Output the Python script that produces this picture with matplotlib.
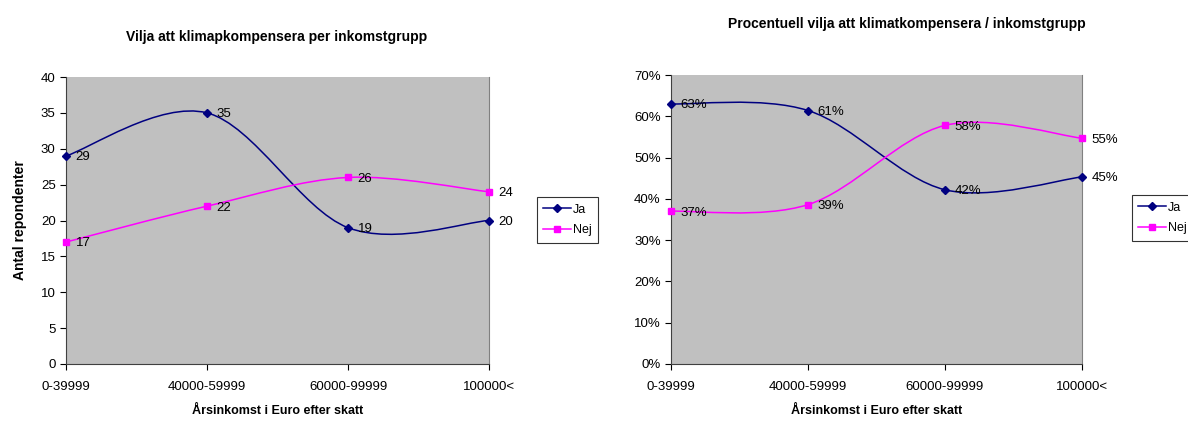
import matplotlib.pyplot as plt
import numpy as np
from matplotlib.path import Path
from matplotlib.patches import PathPatch
from matplotlib.ticker import PercentFormatter

plt.rcParams['font.family'] = ['Liberation Sans', 'DejaVu Sans']

# Data
categories = ['0-39999', '40000-59999', '60000-99999', '100000<']
ja_count = [29, 35, 19, 20]
nej_count = [17, 22, 26, 24]
ja_share = [0.630, 0.614, 0.422, 0.453]
nej_share = [0.370, 0.386, 0.578, 0.547]

JA_COLOR = '#000080'
NEJ_COLOR = '#FF00FF'
BG = '#C0C0C0'


def smooth_path(xs, ys):
    """Excel-like smoothed line as bezier segments (catmull-rom)."""
    pts = np.column_stack([xs, ys]).astype(float)
    ext = np.vstack([pts[0], pts, pts[-1]])
    verts = [pts[0]]
    codes = [Path.MOVETO]
    for i in range(len(pts) - 1):
        p0, p1, p2, p3 = ext[i], ext[i + 1], ext[i + 2], ext[i + 3]
        c1 = p1 + (p2 - p0) / 6.0
        c2 = p2 - (p3 - p1) / 6.0
        verts += [c1, c2, p2]
        codes += [Path.CURVE4] * 3
    return Path(verts, codes)


def draw_panel(ax, ja, nej, ylim, yticks, fmt, ylabel=None):
    x = np.arange(len(categories))
    ax.set_facecolor(BG)
    for vals, color, marker, ms, name in [(ja, JA_COLOR, 'D', 4.5, 'Ja'),
                                          (nej, NEJ_COLOR, 's', 4.5, 'Nej')]:
        ax.add_patch(PathPatch(smooth_path(x, vals), facecolor='none',
                               edgecolor=color, lw=1.1, zorder=3))
        ax.plot(x, vals, ls='none', marker=marker, ms=ms, color=color,
                zorder=4, clip_on=False)
        ax.plot([], [], color=color, marker=marker, ms=ms, lw=1.1, label=name)
        for xi, v in zip(x, vals):
            ax.annotate(fmt(v), (xi, v), xytext=(7, -1), textcoords='offset points',
                        ha='left', va='center', fontsize=9.5, zorder=5)
    ax.set_xlim(0, len(categories) - 1)
    ax.set_ylim(*ylim)
    ax.set_yticks(yticks)
    ax.set_xticks(x)
    ax.set_xticklabels(categories)
    ax.tick_params(labelsize=9.5, length=4, width=0.8, direction='out')
    ax.tick_params(axis='x', pad=8)
    ax.spines['top'].set_visible(False)
    ax.spines['right'].set_color('#808080')
    ax.spines['left'].set_color('#404040')
    ax.spines['bottom'].set_color('#404040')
    ax.set_xlabel('Årsinkomst i Euro efter skatt', fontsize=9, fontweight='bold', labelpad=9)
    if ylabel:
        ax.set_ylabel(ylabel, fontsize=10, fontweight='bold', labelpad=10)


fig = plt.figure(figsize=(11.88, 4.22), dpi=100)

ax1 = fig.add_axes([66 / 1188, 58 / 422, 423 / 1188, 287 / 422])
draw_panel(ax1, ja_count, nej_count, (0, 40), range(0, 41, 5), lambda v: f'{v}',
           ylabel='Antal repondenter')
fig.text(277 / 1188, 1 - 37 / 422, 'Vilja att klimapkompensera per inkomstgrupp',
         ha='center', va='center', fontsize=10, fontweight='bold')
leg1 = ax1.legend(loc='center left', bbox_to_anchor=(537 / 1188, 1 - 220 / 422),
                  bbox_transform=fig.transFigure, fontsize=9, frameon=True,
                  fancybox=False, handlelength=2.2, handletextpad=0.2,
                  borderpad=0.5, labelspacing=0.7, borderaxespad=0)
leg1.get_frame().set_edgecolor('black')
leg1.get_frame().set_linewidth(0.8)

ax2 = fig.add_axes([671 / 1188, 58 / 422, 411 / 1188, 289 / 422])
draw_panel(ax2, ja_share, nej_share, (0, 0.7), np.arange(0, 0.71, 0.1),
           lambda v: f'{v * 100:.0f}%')
ax2.yaxis.set_major_formatter(PercentFormatter(1.0, decimals=0))
fig.text(907 / 1188, 1 - 24 / 422, 'Procentuell vilja att klimatkompensera / inkomstgrupp',
         ha='center', va='center', fontsize=10, fontweight='bold')
leg2 = ax2.legend(loc='center left', bbox_to_anchor=(1132 / 1188, 1 - 218 / 422),
                  bbox_transform=fig.transFigure, fontsize=9, frameon=True,
                  fancybox=False, handlelength=2.2, handletextpad=0.2,
                  borderpad=0.5, labelspacing=0.7, borderaxespad=0)
leg2.get_frame().set_edgecolor('black')
leg2.get_frame().set_linewidth(0.8)

fig.savefig('out.png', dpi=100)
